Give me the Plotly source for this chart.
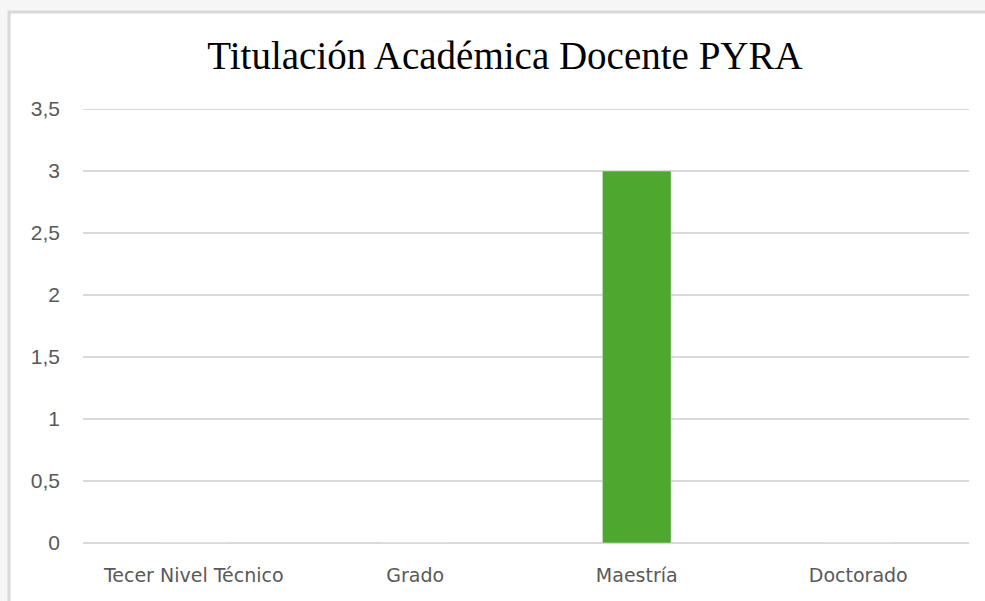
import plotly.graph_objects as go

categories = ["Tecer Nivel Técnico", "Grado", "Maestría", "Doctorado"]
values = [0, 0, 3, 0]
y_ticks = [0, 0.5, 1, 1.5, 2, 2.5, 3, 3.5]
y_tick_labels = ["0", "0,5", "1", "1,5", "2", "2,5", "3", "3,5"]

fig = go.Figure(go.Bar(x=categories, y=values, marker_color="#4ea72e", width=0.31))

W, H = 985, 601
L, R, T, B = 83, 16, 109, 58
pw, ph = W - L - R, H - T - B

def px_x(p):
    return (p - L) / pw

def px_y(p):
    return (H - B - p) / ph

fig.add_shape(type="rect", xref="paper", yref="paper",
              x0=px_x(9), x1=px_x(1000), y0=px_y(620), y1=px_y(12),
              fillcolor="white", line=dict(color="#d9d9d9", width=3), layer="below")

# top gridline (at the range edge) drawn explicitly
fig.add_shape(type="line", xref="paper", yref="y", x0=0, x1=1,
              y0=y_ticks[-1], y1=y_ticks[-1],
              line=dict(color="#d9d9d9", width=2), layer="below")

fig.update_layout(
    width=W, height=H,
    margin=dict(l=L, r=R, t=T, b=B),
    paper_bgcolor="#f6f6f6",
    plot_bgcolor="rgba(0,0,0,0)",
    separators=",.",
    showlegend=False,
    title=dict(text="Titulación Académica Docente PYRA", x=505 / W,
               xanchor="center", y=1 - 55 / H, yanchor="middle",
               font=dict(family="Liberation Serif, Times New Roman, serif", size=39, color="#000000")),
    xaxis=dict(showgrid=False, showline=False, zeroline=False,
               tickfont=dict(family="DejaVu Sans, sans-serif", size=19, color="#595959"),
               ticklabelstandoff=19),
    yaxis=dict(range=[0, 3.5], tickvals=y_ticks, ticktext=y_tick_labels,
               showgrid=True, gridcolor="#d9d9d9", gridwidth=2,
               zeroline=True, zerolinecolor="#d9d9d9", zerolinewidth=2,
               showline=False,
               tickfont=dict(family="Liberation Sans, Arial, sans-serif", size=21, color="#595959"),
               ticklabelstandoff=22),
)

fig.write_html("out.html", config={"displayModeBar": False},
               post_script="document.body.style.margin='0';document.body.style.background='#f6f6f6';")
